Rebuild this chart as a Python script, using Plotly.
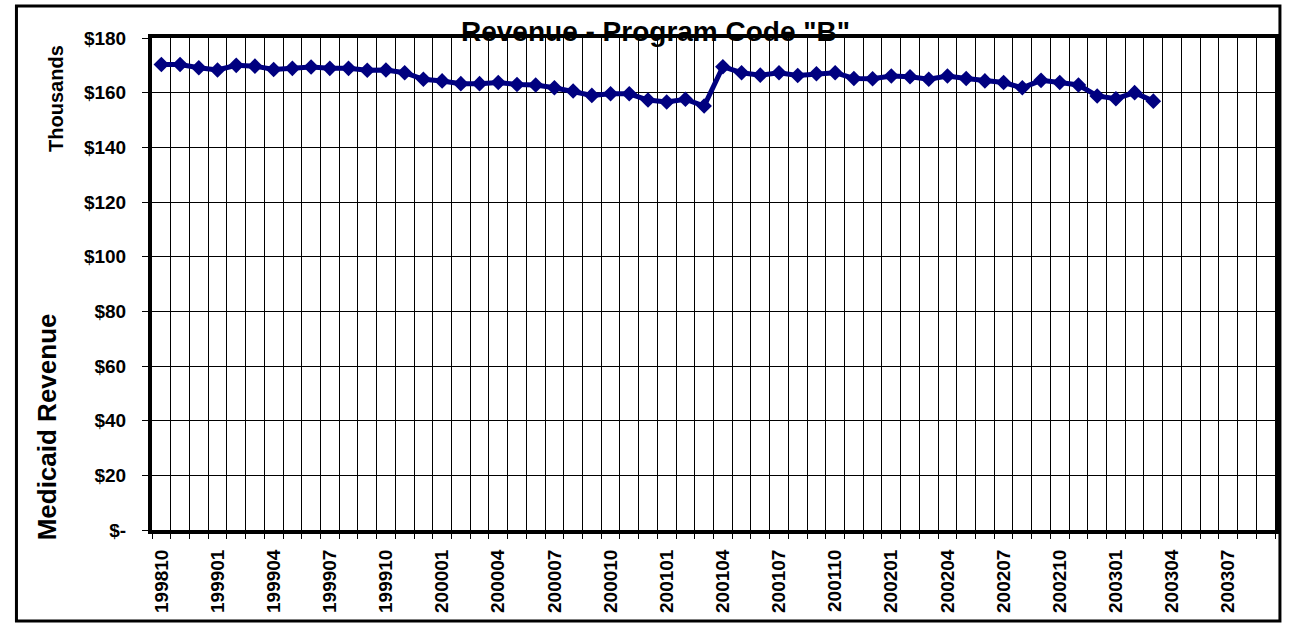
import plotly.graph_objects as go

categories = [
    "199810", "199811", "199812", "199901", "199902", "199903", "199904", "199905", "199906",
    "199907", "199908", "199909", "199910", "199911", "199912", "200001", "200002", "200003",
    "200004", "200005", "200006", "200007", "200008", "200009", "200010", "200011", "200012",
    "200101", "200102", "200103", "200104", "200105", "200106", "200107", "200108", "200109",
    "200110", "200111", "200112", "200201", "200202", "200203", "200204", "200205", "200206",
    "200207", "200208", "200209", "200210", "200211", "200212", "200301", "200302", "200303",
    "200304", "200305", "200306", "200307", "200308", "200309",
]

# Medicaid revenue, thousands of dollars (199810 .. 200303)
revenue = [
    170.3, 170.3, 169.1, 168.3, 170.0, 169.7, 168.5, 168.9, 169.4, 168.9,
    168.9, 168.2, 168.3, 167.3, 164.9, 164.3, 163.3, 163.3, 163.7, 163.0,
    162.8, 161.8, 160.6, 159.0, 159.6, 159.6, 157.3, 156.6, 157.6, 155.1,
    169.5, 167.3, 166.4, 167.3, 166.3, 166.9, 167.3, 165.2, 165.1, 166.1,
    165.8, 164.9, 166.1, 165.2, 164.3, 163.7, 161.8, 164.5, 163.7, 162.8,
    158.8, 157.8, 160.0, 156.9,
]

x_tick_labels = [c if i % 3 == 0 else "" for i, c in enumerate(categories)]
y_tick_values = [0, 20, 40, 60, 80, 100, 120, 140, 160, 180]
y_tick_labels = ["$-", "$20", "$40", "$60", "$80", "$100", "$120", "$140", "$160", "$180"]

title_text = 'Revenue - Program Code "B"'
axis_title = "Medicaid Revenue"
units_label = "Thousands"

FONT = "Liberation Sans, Arial, sans-serif"

fig = go.Figure()
fig.add_trace(go.Scatter(
    x=categories[:len(revenue)],
    y=revenue,
    mode="lines+markers",
    line=dict(color="#000080", width=5),
    marker=dict(symbol="diamond", size=12, color="#000080"),
    hoverinfo="x+y",
))

fig.update_layout(
    width=1290, height=624,
    margin=dict(l=152, r=11, t=38, b=94),
    paper_bgcolor="white", plot_bgcolor="white",
    showlegend=False,
    font=dict(family=FONT, color="black"),
    xaxis=dict(
        type="category",
        categoryorder="array", categoryarray=categories,
        range=[-0.5, len(categories) - 0.5],
        tickmode="array", tickvals=categories, ticktext=x_tick_labels,
        tickson="boundaries",
        ticks="outside", ticklen=5, tickcolor="black", tickwidth=1,
        showgrid=True, gridcolor="black", gridwidth=1,
        showline=True, linecolor="black", linewidth=4, mirror=True,
        tickangle=-90,
        tickfont=dict(family=FONT, size=19, color="black", weight="bold"),
        ticklabelstandoff=8,
    ),
    yaxis=dict(
        range=[0, 180],
        tickmode="array", tickvals=y_tick_values, ticktext=y_tick_labels,
        ticks="outside", ticklen=6, tickcolor="black", tickwidth=1,
        showgrid=True, gridcolor="black", gridwidth=1,
        zeroline=False,
        showline=True, linecolor="black", linewidth=4, mirror=True,
        tickfont=dict(family=FONT, size=19, color="black", weight="bold"),
        ticklabelstandoff=12,
    ),
    annotations=[
        dict(text=title_text, xref="paper", yref="paper", x=0.4485, y=1.014,
             xanchor="center", yanchor="middle", showarrow=False,
             font=dict(family=FONT, size=28, color="black", weight="bold")),
        dict(text=units_label, xref="paper", yref="paper", x=-0.0856, y=0.878,
             xanchor="center", yanchor="middle", showarrow=False, textangle=-90,
             font=dict(family=FONT, size=20, color="black", weight="bold")),
        dict(text=axis_title, xref="paper", yref="paper", x=-0.0932, y=0.2093,
             xanchor="center", yanchor="middle", showarrow=False, textangle=-90,
             font=dict(family=FONT, size=26, color="black", weight="bold")),
    ],
    shapes=[
        dict(type="rect", xref="paper", yref="paper",
             x0=-0.1207, x1=1.0044, y0=-0.185, y1=1.065,
             line=dict(color="black", width=3), fillcolor="rgba(0,0,0,0)", layer="above"),
    ],
)

fig.write_html(
    "out.html",
    config={"displayModeBar": False},
    post_script="document.body.style.margin='0';document.body.style.overflow='hidden';",
)
